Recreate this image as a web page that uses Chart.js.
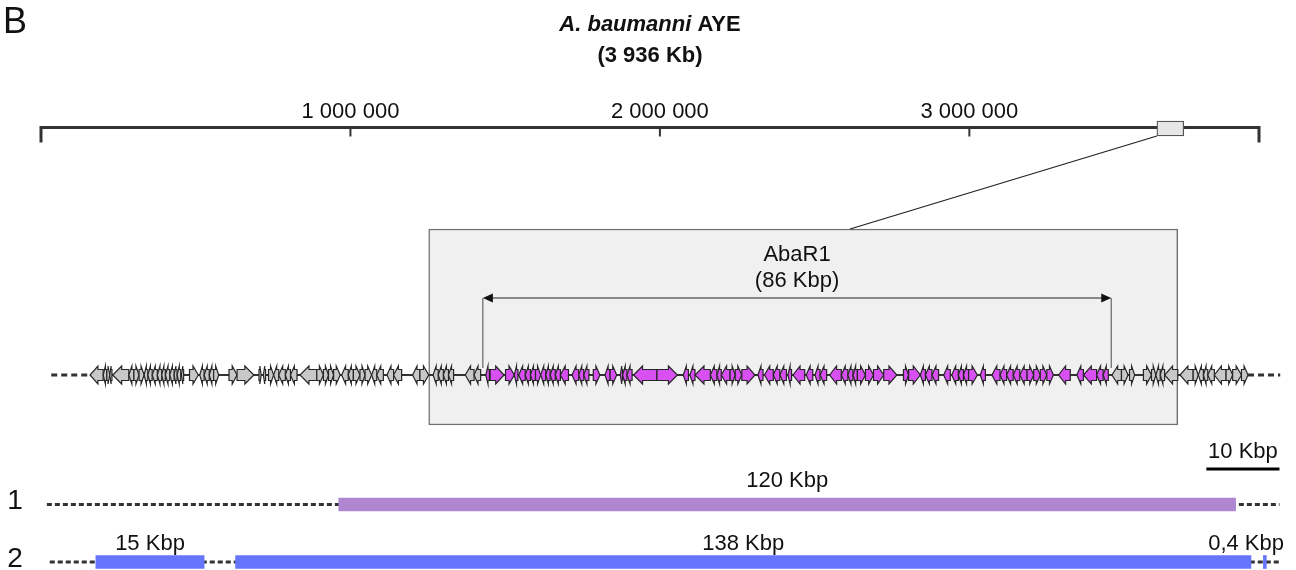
<!DOCTYPE html>
<html>
<head>
<meta charset="utf-8">
<script src="https://cdn.jsdelivr.net/npm/chart.js@4.4.1/dist/chart.umd.min.js"></script>
<style>
  html, body { margin: 0; padding: 0; background: #fff; }
  #wrap { position: relative; width: 1296px; height: 570px; }
</style>
</head>
<body>
<div id="wrap"><canvas id="genomeChart"></canvas></div>
<script>
// genome (bp)
const genomeLength = 3936000;
const genomeTicks = [1000000, 2000000, 3000000];
const genomeTickLabels = ['1 000 000', '2 000 000', '3 000 000'];
const islandWindow = [3606000, 3693000];

// zoomed region (Kbp)
const zoomBox = [53.0, 155.4];
const abaR1 = [60.4, 146.3];
const geneTrack = [1.4, 169.4];
// [start, end, strand]  1 = forward, -1 = reverse
const genes = [
  [6.7,8.5,-1],[8.5,9.0,-1],[9.0,9.4,1],[9.4,9.7,-1],[9.8,12.0,-1],[12.0,12.7,-1],[12.7,13.4,1],[13.4,14.1,1],
  [14.1,14.6,-1],[14.6,15.2,-1],[15.2,15.9,-1],[15.9,16.5,-1],[16.5,17.0,-1],[17.0,17.6,-1],[17.6,18.2,-1],
  [18.2,18.6,-1],[18.6,19.1,-1],[19.2,19.5,-1],[20.3,21.5,1],[21.7,22.3,-1],[22.3,23.0,-1],[23.0,23.6,-1],
  [23.6,24.3,1],[25.7,26.8,1],[26.8,29.1,1],[29.8,30.1,1],[30.4,30.7,-1],[31.1,31.8,1],[31.8,32.5,-1],
  [32.5,33.4,-1],[33.4,34.1,-1],[34.1,35.0,-1],[35.4,37.7,-1],[37.7,38.6,1],[38.6,39.3,1],[39.3,40.0,1],
  [40.0,40.9,1],[41.1,42.0,-1],[42.0,42.7,-1],[42.7,43.6,1],[43.6,44.3,1],[44.3,45.2,1],[45.2,45.9,-1],
  [45.9,46.8,-1],[47.3,48.2,-1],[48.2,49.3,-1],[50.8,51.8,-1],[51.8,53.0,1],[53.6,54.3,-1],[54.3,55.0,-1],
  [55.0,55.7,-1],[55.7,56.4,-1],[58.0,59.2,-1],[59.2,60.1,-1],
  [60.8,61.3,-1],[61.4,63.3,1],[63.5,64.7,1],[64.7,65.2,-1],[65.3,66.2,-1],[66.2,66.9,-1],[66.9,67.6,-1],
  [67.6,68.3,1],[68.3,69.0,-1],[69.0,69.6,-1],[69.6,70.3,-1],[70.3,71.0,-1],[71.0,72.1,-1],[72.6,73.5,-1],
  [73.5,74.2,-1],[74.2,74.9,-1],[75.5,76.4,1],[77.1,77.8,-1],[77.8,78.7,1],[79.2,79.5,-1],[79.5,80.1,-1],
  [80.1,80.8,-1],[81.0,84.2,-1],[84.2,87.0,1],[87.8,88.5,-1],[88.7,89.4,-1],[89.4,91.5,-1],[91.5,92.4,-1],
  [92.4,93.0,-1],[93.0,94.2,-1],[94.2,94.9,1],[94.9,95.8,1],[95.8,97.6,1],[98.0,98.7,-1],[98.9,100.1,-1],
  [100.1,101.0,-1],[101.0,101.9,-1],[102.1,102.6,-1],[102.8,104.4,-1],[104.6,105.5,-1],[105.8,106.5,-1],
  [106.5,107.4,-1],[107.8,109.4,-1],[109.4,110.3,-1],[110.3,111.0,-1],[111.0,111.6,-1],[111.6,112.7,1],
  [112.7,113.8,1],[113.8,115.2,1],[115.2,117.0,1],[117.9,118.6,1],[118.6,120.2,1],[120.2,120.9,-1],
  [120.9,121.8,-1],[121.8,122.7,-1],[123.4,124.3,-1],[124.5,125.4,-1],[125.4,126.1,-1],[126.1,126.8,-1],
  [126.8,128.0,1],[128.4,129.1,-1],[130.0,131.1,-1],[131.1,132.0,-1],[132.0,132.9,-1],[132.9,133.8,-1],
  [133.8,134.8,-1],[134.8,135.7,1],[135.7,136.6,1],[136.6,137.5,1],[137.5,138.4,1],[139.1,140.7,-1],
  [141.6,142.5,-1],[142.5,144.3,-1],[144.3,145.2,-1],[145.2,145.9,-1],
  [146.4,147.7,-1],[147.7,148.6,1],[148.8,149.5,1],[150.7,151.8,1],[151.8,152.4,1],[152.4,153.0,-1],
  [153.0,153.6,-1],[153.6,155.4,-1],[155.7,157.5,-1],[157.5,158.2,1],[158.2,158.9,-1],[158.9,159.5,-1],
  [159.5,160.4,-1],[160.4,162.0,-1],[162.0,162.9,1],[162.9,164.1,1],[164.1,165.0,1]
];

// compared genomes (Kbp)
const rowNames = ['1', '2'];
const rowSpans = [[0.8, 169.3], [1.2, 169.6]];
const row1Blocks = [[40.7, 163.3]];
const row1Labels = ['120 Kbp'];
const row2Blocks = [[7.5, 22.3], [26.6, 165.4], [167.1, 167.5]];
const row2Labels = ['15 Kbp', '138 Kbp', '0,4 Kbp'];
const scaleBar = [159.3, 169.3];

// vertical layout (pixels on the y scale)
const Y = { axis: 127.5, island: 128.5, zoom: 327, gene: 375, arrow: 298, row1: 504.5, row2: 562 };

const FONT = '"Liberation Sans", Arial, sans-serif';

const blocksToData = (blocks, y) => blocks.map(b => ({ x: b, y: y }));
const spanToData = (s, y) => [{ x: s[0], y: y }, { x: s[1], y: y }];

const drawPlugin = {
  id: 'genomeDraw',
  beforeDatasetsDraw(chart) {
    const ctx = chart.ctx, xg = chart.scales.xg;
    const y0 = chart.scales.y.getPixelForValue(Y.axis);
    ctx.save();
    ctx.strokeStyle = '#333';
    ctx.lineWidth = 3;
    ctx.beginPath();
    ctx.moveTo(xg.getPixelForValue(0), y0);
    ctx.lineTo(xg.getPixelForValue(genomeLength), y0);
    ctx.stroke();
    [0, genomeLength].forEach(v => {
      const x = xg.getPixelForValue(v);
      ctx.beginPath(); ctx.moveTo(x, y0 - 1.5); ctx.lineTo(x, y0 + 15); ctx.stroke();
    });
    ctx.lineWidth = 2;
    ctx.fillStyle = '#111';
    ctx.font = '22px ' + FONT;
    ctx.textAlign = 'center';
    genomeTicks.forEach((t, i) => {
      const x = xg.getPixelForValue(t);
      ctx.beginPath(); ctx.moveTo(x, y0); ctx.lineTo(x, y0 + 9); ctx.stroke();
      ctx.fillText(genomeTickLabels[i], x, y0 - 9.5);
    });
    ctx.restore();
  },
  afterDatasetsDraw(chart) {
    const ctx = chart.ctx, kb = chart.scales.kb, xg = chart.scales.xg, ys = chart.scales.y;
    const px = v => kb.getPixelForValue(v);
    ctx.save();

    // connector from genome window to zoom box
    ctx.strokeStyle = '#222';
    ctx.lineWidth = 1.3;
    ctx.beginPath();
    ctx.moveTo(xg.getPixelForValue(islandWindow[0]), ys.getPixelForValue(Y.island) + 7.5);
    ctx.lineTo(px(110.6), ys.getPixelForValue(Y.zoom) - 98);
    ctx.stroke();

    // gene track
    const gy = ys.getPixelForValue(Y.gene);
    ctx.strokeStyle = '#333';
    ctx.lineWidth = 3;
    ctx.setLineDash([6, 4]);
    ctx.beginPath();
    ctx.moveTo(px(geneTrack[0]), gy); ctx.lineTo(px(genes[0][0]), gy);
    ctx.moveTo(px(genes[genes.length - 1][1]), gy); ctx.lineTo(px(geneTrack[1]), gy);
    ctx.stroke();
    ctx.setLineDash([]);
    ctx.lineWidth = 1.8;
    ctx.beginPath();
    ctx.moveTo(px(genes[0][0]), gy); ctx.lineTo(px(genes[genes.length - 1][1]), gy);
    ctx.stroke();

    genes.forEach(g => {
      const a = px(g[0]), b = px(g[1]), w = b - a;
      const head = Math.min(9, w * 0.6);
      const mid = (g[0] + g[1]) / 2;
      const inIsland = mid > abaR1[0] && mid < abaR1[1];
      ctx.fillStyle = inIsland ? '#d84ff2' : '#c8c8c8';
      ctx.strokeStyle = '#262626';
      ctx.lineWidth = 1.2;
      ctx.beginPath();
      if (g[2] > 0) {
        ctx.moveTo(a, gy - 5.5); ctx.lineTo(b - head, gy - 5.5); ctx.lineTo(b - head, gy - 9);
        ctx.lineTo(b, gy); ctx.lineTo(b - head, gy + 9); ctx.lineTo(b - head, gy + 5.5); ctx.lineTo(a, gy + 5.5);
      } else {
        ctx.moveTo(b, gy - 5.5); ctx.lineTo(a + head, gy - 5.5); ctx.lineTo(a + head, gy - 9);
        ctx.lineTo(a, gy); ctx.lineTo(a + head, gy + 9); ctx.lineTo(a + head, gy + 5.5); ctx.lineTo(b, gy + 5.5);
      }
      ctx.closePath();
      ctx.fill();
      ctx.stroke();
    });

    // AbaR1 span arrow
    const ay = ys.getPixelForValue(Y.arrow);
    const a1 = px(abaR1[0]), a2 = px(abaR1[1]);
    ctx.strokeStyle = '#666';
    ctx.lineWidth = 1.2;
    ctx.beginPath();
    ctx.moveTo(a1, ay); ctx.lineTo(a1, gy - 7);
    ctx.moveTo(a2, ay); ctx.lineTo(a2, gy - 7);
    ctx.stroke();
    ctx.strokeStyle = '#222';
    ctx.beginPath(); ctx.moveTo(a1 + 4, ay); ctx.lineTo(a2 - 4, ay); ctx.stroke();
    ctx.fillStyle = '#111';
    ctx.beginPath(); ctx.moveTo(a1, ay); ctx.lineTo(a1 + 10, ay - 4.5); ctx.lineTo(a1 + 10, ay + 4.5); ctx.closePath(); ctx.fill();
    ctx.beginPath(); ctx.moveTo(a2, ay); ctx.lineTo(a2 - 10, ay - 4.5); ctx.lineTo(a2 - 10, ay + 4.5); ctx.closePath(); ctx.fill();

    ctx.textAlign = 'center';
    ctx.font = '22px ' + FONT;
    const amid = px((abaR1[0] + abaR1[1]) / 2);
    ctx.fillText('AbaR1', amid, ay - 37);
    ctx.fillText('(' + Math.round(abaR1[1] - abaR1[0]) + ' Kbp)', amid, ay - 11);

    // scale bar
    ctx.fillText('10 Kbp', px((scaleBar[0] + scaleBar[1]) / 2), 458);
    ctx.strokeStyle = '#000';
    ctx.lineWidth = 3;
    ctx.beginPath(); ctx.moveTo(px(scaleBar[0]), 469); ctx.lineTo(px(scaleBar[1]), 469); ctx.stroke();

    // block labels
    const r1 = ys.getPixelForValue(Y.row1), r2 = ys.getPixelForValue(Y.row2);
    row1Blocks.forEach((b, i) => ctx.fillText(row1Labels[i], px((b[0] + b[1]) / 2), r1 - 18));
    row2Blocks.forEach((b, i) => {
      let x = px((b[0] + b[1]) / 2);
      const w = ctx.measureText(row2Labels[i]).width;
      x = Math.min(x, chart.width - 12 - w / 2);
      ctx.fillText(row2Labels[i], x, r2 - 12);
    });

    ctx.font = '28px ' + FONT;
    ctx.fillText(rowNames[0], 15, r1 + 4);
    ctx.fillText(rowNames[1], 15, r2 + 5);

    // panel letter and title
    ctx.textAlign = 'left';
    ctx.font = '36px ' + FONT;
    ctx.fillText('B', 3, 33);
    const cx = (xg.getPixelForValue(0) + xg.getPixelForValue(genomeLength)) / 2;
    ctx.font = 'italic bold 22px ' + FONT;
    const p1 = 'A. baumanni';
    const w1 = ctx.measureText(p1).width;
    ctx.font = 'bold 22px ' + FONT;
    const p2 = ' AYE';
    const w2 = ctx.measureText(p2).width;
    const sx = cx - (w1 + w2) / 2;
    ctx.font = 'italic bold 22px ' + FONT;
    ctx.fillText(p1, sx, 31);
    ctx.font = 'bold 22px ' + FONT;
    ctx.fillText(p2, sx + w1, 31);
    ctx.textAlign = 'center';
    ctx.fillText('(3 936 Kb)', cx, 62);
    ctx.restore();
  }
};

new Chart(document.getElementById('genomeChart'), {
  type: 'bar',
  data: {
    datasets: [
      {
        label: 'genome 1',
        data: blocksToData(row1Blocks, Y.row1),
        backgroundColor: '#b186d1',
        barThickness: 13,
        xAxisID: 'kb'
      },
      {
        label: 'genome 2',
        data: blocksToData(row2Blocks, Y.row2),
        backgroundColor: '#6675fc',
        barThickness: 13,
        xAxisID: 'kb'
      },
      {
        type: 'line',
        label: 'backbone 1',
        data: spanToData(rowSpans[0], Y.row1),
        borderColor: '#333',
        borderWidth: 3,
        borderDash: [5, 3],
        pointRadius: 0,
        xAxisID: 'kb'
      },
      {
        type: 'line',
        label: 'backbone 2',
        data: spanToData(rowSpans[1], Y.row2),
        borderColor: '#333',
        borderWidth: 3,
        borderDash: [5, 3],
        pointRadius: 0,
        xAxisID: 'kb'
      },
      {
        label: 'island window',
        data: [{ x: islandWindow, y: Y.island }],
        backgroundColor: '#e6e6e6',
        borderColor: '#555',
        borderWidth: 1.3,
        borderSkipped: false,
        barThickness: 15,
        xAxisID: 'xg'
      },
      {
        label: 'zoom',
        data: [{ x: zoomBox, y: Y.zoom }],
        backgroundColor: '#f0f0f0',
        borderColor: '#707070',
        borderWidth: 1.5,
        borderSkipped: false,
        barThickness: 196,
        xAxisID: 'kb'
      }
    ]
  },
  options: {
    indexAxis: 'y',
    responsive: true,
    maintainAspectRatio: false,
    animation: false,
    events: [],
    layout: { padding: { left: 41, right: 37, top: 0, bottom: 0 } },
    datasets: {
      bar: { grouped: false, clip: false },
      line: { clip: false }
    },
    plugins: {
      legend: { display: false },
      tooltip: { enabled: false }
    },
    scales: {
      kb: { type: 'linear', axis: 'x', min: 0, max: 166.5, display: false },
      xg: { type: 'linear', axis: 'x', min: 0, max: genomeLength, display: false },
      y: { type: 'linear', min: 0, max: 570, reverse: true, offset: false, display: false }
    }
  },
  plugins: [drawPlugin]
});
</script>
</body>
</html>
